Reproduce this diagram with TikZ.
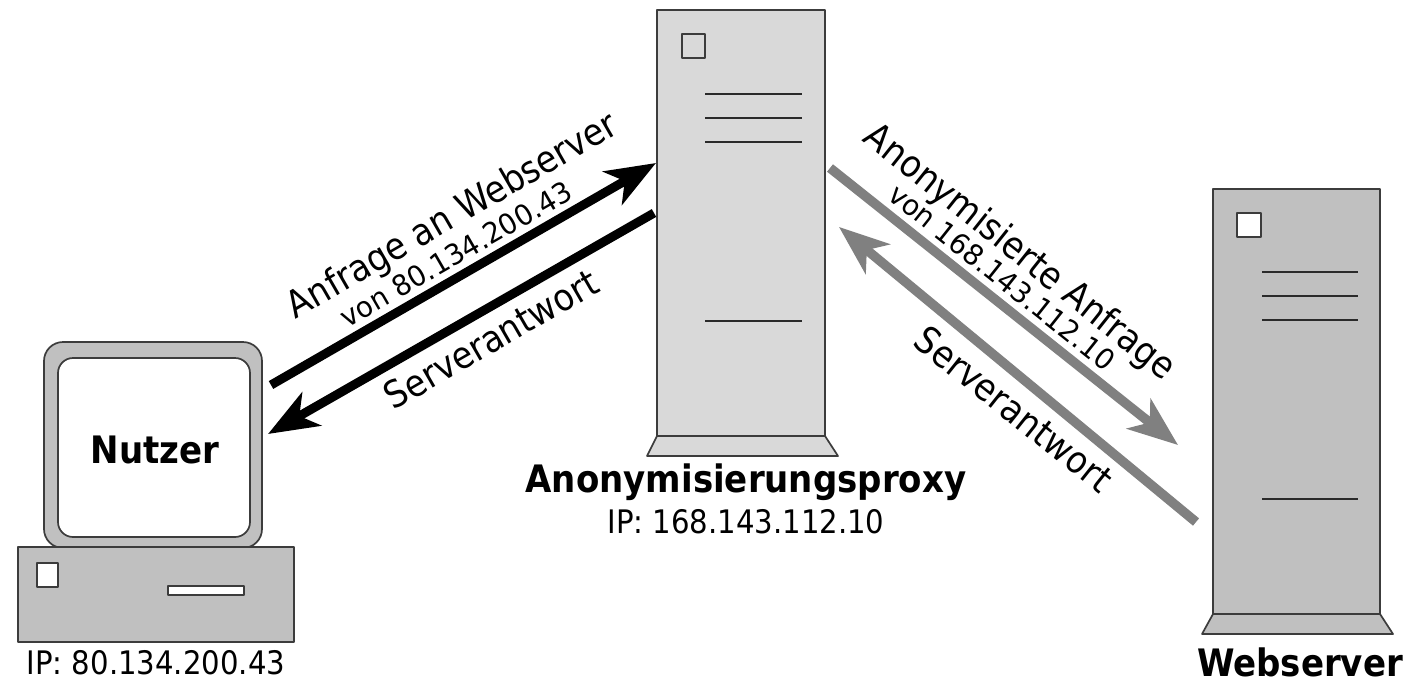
\documentclass[tikz,border=0pt]{standalone}
\usepackage{fontspec}
\setmainfont[FakeStretch=0.9]{DejaVu Sans}
\newfontfamily\smallfam[FakeStretch=0.97]{DejaVu Sans}
\usetikzlibrary{arrows.meta}
\definecolor{lgray}{HTML}{D9D9D9}
\definecolor{mgray}{HTML}{C0C0C0}
\definecolor{agray}{HTML}{808080}
\definecolor{edge}{HTML}{3C3C3C}
\tikzset{
  shape line/.style={draw=edge,line width=1.7pt,line join=round},
  blackarrow/.style={line width=9pt,black},
  grayarrow/.style={line width=9.5pt,agray},
  head/.style={-{Stealth[length=50pt,width=38pt,inset=14pt]}},
  biglabel/.style={font=\fontsize{37.3}{40}\selectfont,inner sep=0pt},
  smalllabel/.style={font=\smallfam\fontsize{28.5}{30}\selectfont,inner sep=0pt},
  iplabel/.style={font=\fontsize{32.4}{34}\selectfont,inner sep=0pt},
  titlelabel/.style={font=\fontsize{37.8}{40}\selectfont\bfseries,inner sep=0pt},
  slots/.style={line width=2.4pt,draw=edge!70!black},
}
\begin{document}
\begin{tikzpicture}[x=1pt,y=-1pt]
\useasboundingbox[fill=white] (0,0) rectangle (1423,680);
% Proxy
\draw[shape line,fill=lgray] (657,436) -- (825,436) -- (838,456) -- (647,456) -- cycle;
\draw[shape line,fill=lgray] (657,10) rectangle (825,436);
\draw[shape line] (682,34) rectangle (705,58);
\foreach \y in {94,118,142,321} \draw[slots] (705,\y) -- (802,\y);
% Webserver
\draw[shape line,fill=mgray] (1213,614) -- (1380,614) -- (1393,634) -- (1202,634) -- cycle;
\draw[shape line,fill=mgray] (1213,189) rectangle (1380,614);
\draw[shape line,fill=white] (1237,213) rectangle (1261,237);
\foreach \y in {272,296,320,499} \draw[slots] (1262,\y) -- (1358,\y);
% User computer
\draw[shape line,fill=mgray,rounded corners=19pt] (44,342) rectangle (262,548);
\draw[shape line,fill=white,rounded corners=15pt] (58,358) rectangle (250,537);
\draw[shape line,fill=mgray] (18,547) rectangle (294,642);
\draw[shape line,fill=white] (37,563) rectangle (58,587);
\draw[shape line,fill=white] (168,586) rectangle (244,595);
% Labels
\node[titlelabel] (nutzer) at (155,450) {Nutzer};
\node[titlelabel] (proxytitle) at (746,482) {Anonymisierungsproxy};
\node[iplabel] (proxyip) at (746,522) {IP: 168.143.112.10};
\node[iplabel] (userip) at (156,663) {IP: 80.134.200.43};
\node[titlelabel] (webtitle) at (1300,662) {Webserver};
% Connector ends
\coordinate (ua) at (271,385);
\coordinate (pa) at (656,163);
\coordinate (pb) at (654,213);
\coordinate (ub) at (268,434);
\coordinate (pc) at (830,168);
\coordinate (wc) at (1178,445);
\coordinate (wd) at (1196,522);
\coordinate (pd) at (839,227);
\draw[blackarrow,head] (ua) -- (pa);
\draw[blackarrow,head] (pb) -- (ub);
\draw[grayarrow,head] (pc) -- (wc);
\draw[grayarrow,head] (wd) -- (pd);
% Connector labels
\node[biglabel,rotate=30] (l1) at (453,217) {Anfrage an Webserver};
\node[smalllabel,rotate=30] (l2) at (456,254) {von 80.134.200.43};
\node[biglabel,rotate=30] (l3) at (491,339) {Serverantwort};
\node[biglabel,rotate=-38.5] (l4) at (1019,253) {Anonymisierte Anfrage};
\node[smalllabel,rotate=-38.5] (l5) at (1002,277) {von 168.143.112.10};
\node[biglabel,rotate=-38.5] (l6) at (1014,409) {Serverantwort};
\end{tikzpicture}
\end{document}
